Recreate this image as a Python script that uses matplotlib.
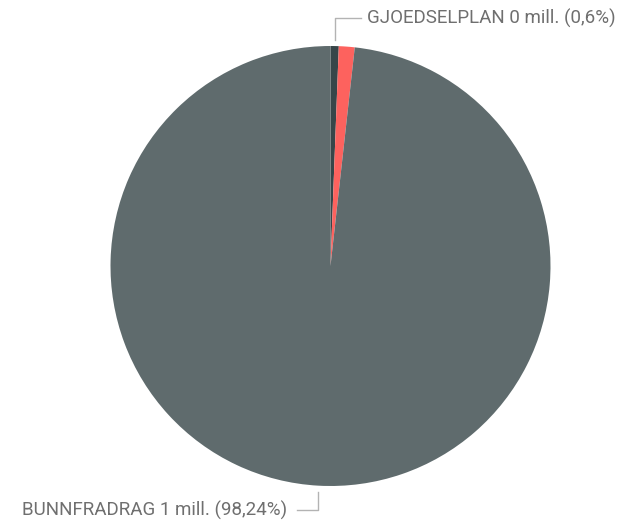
import numpy as np
import matplotlib.pyplot as plt

# slices clockwise from 12 o'clock
categories = ["GJOEDSELPLAN", "ANNET", "BUNNFRADRAG"]
shares = [0.6, 1.16, 98.24]
value_labels = ["0 mill.", "", "1 mill."]
pct_labels = ["0,6%", "", "98,24%"]
colors = ["#374649", "#FD625E", "#5F6B6D"]

W, H = 620, 523
fig = plt.figure(figsize=(W / 100, H / 100), dpi=100)
ax = fig.add_axes([0, 0, 1, 1])
ax.axis("off")

cx, cy, r = 330.5, H - 266, 220
ax.pie(shares, colors=colors, startangle=90, counterclock=False,
       center=(cx, cy), radius=r, wedgeprops=dict(linewidth=0))
ax.set_xlim(0, W)
ax.set_ylim(0, H)
ax.set_aspect("equal")

line_col = "#b3b3b3"
text_col = "#6f6f6f"
cum = np.cumsum([0] + shares)
for i, name in enumerate(categories):
    if not value_labels[i]:
        continue
    mid = (cum[i] + cum[i + 1]) / 2 / 100 * 2 * np.pi
    x0 = cx + (r + 6) * np.sin(mid)
    y0 = cy + (r + 6) * np.cos(mid)
    top = np.cos(mid) > 0
    y1 = H - 18 if top else H - 510
    label = f"{name} {value_labels[i]} ({pct_labels[i]})"
    if top:
        x1 = x0 + 26
        ax.plot([x0, x0, x1], [y0, y1, y1], color=line_col, lw=1)
        ax.text(x1 + 6, y1, label, ha="left", va="center", color=text_col,
                fontsize=13.5, family="Roboto")
    else:
        x1 = x0 - 21
        ax.plot([x0, x0, x1], [y0, y1, y1], color=line_col, lw=1)
        ax.text(x1 - 10, y1, label, ha="right", va="center", color=text_col,
                fontsize=13.5, family="Roboto")

fig.savefig("out.png", dpi=100)
